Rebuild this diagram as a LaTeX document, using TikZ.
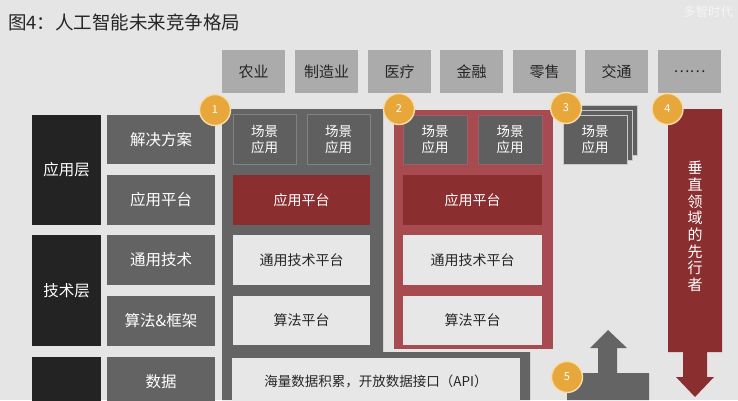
\documentclass[tikz,border=0pt]{standalone}
\usepackage{fontspec}
\setmainfont{Noto Sans CJK SC}
\definecolor{bgc}{HTML}{E5E5E5}
\definecolor{indc}{HTML}{ABABAB}
\definecolor{blkc}{HTML}{232323}
\definecolor{gboxc}{HTML}{636363}
\definecolor{gframec}{HTML}{646464}
\definecolor{dredc}{HTML}{8B2E30}
\definecolor{rframec}{HTML}{A84B51}
\definecolor{lboxc}{HTML}{E7E7E7}
\definecolor{badgec}{HTML}{E8A73A}
\definecolor{badgebc}{HTML}{F6DDAE}
\definecolor{txtc}{HTML}{262626}
\definecolor{scenec}{HTML}{5F5F5F}
\definecolor{sceneedge}{HTML}{828282}
\definecolor{cardedge}{HTML}{C8C8C8}
\tikzset{
  basebox/.style={rectangle, inner sep=0pt, outer sep=0pt, align=center},
  indbox/.style={basebox, fill=indc, minimum width=63pt, minimum height=43pt, text=txtc, font=\fontsize{15}{18}\selectfont},
  layerbox/.style={basebox, fill=blkc, minimum width=69pt, text=white, font=\fontsize{15.5}{18}\selectfont},
  subbox/.style={basebox, fill=gboxc, minimum width=108pt, text=white, font=\fontsize{15.5}{18}\selectfont},
  scenebox/.style={basebox, fill=scenec, minimum width=63pt, minimum height=50pt, text=white, font=\fontsize{13.5}{16}\selectfont},
  redbox/.style={basebox, fill=dredc, minimum height=50pt, text=white, font=\fontsize{14}{17}\selectfont},
  lightbox/.style={basebox, fill=lboxc, minimum height=50pt, text=txtc, font=\fontsize{14}{17}\selectfont},
  badgenode/.style={circle, fill=badgec, draw=badgebc, line width=1.4pt, minimum size=31pt, inner sep=0pt, text=white, font=\fontsize{11}{12}\selectfont},
}
\begin{document}
\begin{tikzpicture}[x=1pt, y=-1pt]
\useasboundingbox (0,0) rectangle (738,400);
\fill[bgc] (0,0) rectangle (738,400);
\begin{scope}
\clip (0,0) rectangle (738,400);
% title and watermark
\node[anchor=west, inner sep=0pt, text=txtc, font=\fontsize{18.5}{20}\selectfont] (title) at (8,22) {图4：人工智能未来竞争格局};
\node[inner sep=0pt, text=white, opacity=0.6, font=\fontsize{12.5}{14}\selectfont] (wm) at (708,12) {多智时代};
% industries
\node[indbox] (i1) at (253.5,71.5) {农业};
\node[indbox] (i2) at (326.5,71.5) {制造业};
\node[indbox] (i3) at (399.5,71.5) {医疗};
\node[indbox] (i4) at (471.5,71.5) {金融};
\node[indbox] (i5) at (544.5,71.5) {零售};
\node[indbox] (i6) at (616.5,71.5) {交通};
\node[indbox] (i7) at (689.5,71.5) {……};
% left layers
\node[layerbox, minimum height=110pt] (l1) at (66.5,170) {应用层};
\node[layerbox, minimum height=111pt] (l2) at (66.5,290.5) {技术层};
\node[layerbox, minimum height=50pt] (l3) at (66.5,382) {};
\node[subbox, minimum height=49pt] (s1) at (161,139.5) {解决方案};
\node[subbox, minimum height=50pt] (s2) at (161,200) {应用平台};
\node[subbox, minimum height=50pt] (s3) at (161,260) {通用技术};
\node[subbox, minimum height=50pt] (s4) at (161,321) {算法\&框架};
\node[subbox, minimum height=50pt] (s5) at (161,382) {数据};
% panel 1
\fill[gframec] (222,109) -- (383,109) -- (383,352) -- (530,352) -- (530,400) -- (222,400) -- cycle;
\node[scenebox, draw=sceneedge, line width=0.7pt] (p1a) at (264.5,139) {场景\\应用};
\node[scenebox, draw=sceneedge, line width=0.7pt] (p1b) at (338.5,139) {场景\\应用};
\node[redbox, minimum width=137pt] (p1c) at (301.5,200) {应用平台};
\node[lightbox, minimum width=137pt] (p1d) at (301.5,260) {通用技术平台};
\node[lightbox, minimum width=137pt, minimum height=49pt] (p1e) at (301.5,320.5) {算法平台};
\node[lightbox, minimum width=288pt, minimum height=46pt, font=\fontsize{13.5}{16}\selectfont] (data) at (376,381) {海量数据积累，开放数据接口（API）};
% panel 2
\fill[rframec] (394,110) rectangle (553,349);
\node[scenebox, minimum width=64pt, minimum height=49pt, draw=rframec!55!gray, line width=0.8pt] (p2a) at (435,139.5) {场景\\应用};
\node[scenebox, minimum width=64pt, minimum height=49pt, draw=rframec!55!gray, line width=0.8pt] (p2b) at (510,139.5) {场景\\应用};
\node[redbox, minimum width=139pt] (p2c) at (472.5,200) {应用平台};
\node[lightbox, minimum width=139pt] (p2d) at (472.5,260) {通用技术平台};
\node[lightbox, minimum width=139pt, minimum height=49pt] (p2e) at (472.5,320.5) {算法平台};
% panel 3 stacked cards
\fill[scenec, draw=cardedge, line width=0.7pt] (573,105) rectangle (637,155);
\fill[scenec, draw=cardedge, line width=0.7pt] (568,110) rectangle (632,160);
\node[scenebox, minimum width=64pt, minimum height=49pt, draw=cardedge, line width=0.7pt] (p3) at (595,139.5) {场景\\应用};
% panel 4 red arrow
\fill[dredc] (668,109) -- (722,109) -- (722,352) -- (707,352) -- (707,377) -- (714,377) -- (695,397) -- (676,377) -- (683,377) -- (683,352) -- (668,352) -- cycle;
\node[inner sep=0pt, align=center, text=white, font=\fontsize{15}{16.7}\selectfont] (vt) at (695,226.5) {垂\\直\\领\\域\\的\\先\\行\\者};
% panel 5 gray arrow
\fill[gframec] (608,330) -- (627,348) -- (617,348) -- (617,373) -- (649,373) -- (649,400) -- (567,400) -- (567,373) -- (598,373) -- (598,348) -- (590,348) -- cycle;
% badges
\node[badgenode] (b1) at (215,110) {1};
\node[badgenode] (b2) at (399,109) {2};
\node[badgenode] (b3) at (566,108) {3};
\node[badgenode] (b4) at (667.5,109) {4};
\node[badgenode] (b5) at (567,377) {5};
\end{scope}
\end{tikzpicture}
\end{document}
